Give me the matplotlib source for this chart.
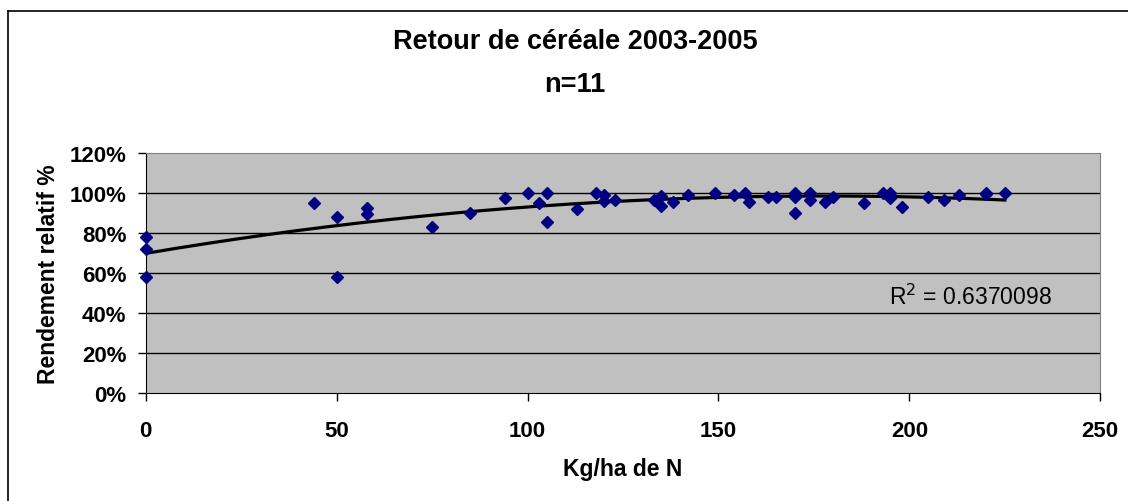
import matplotlib
matplotlib.use("Agg")
import matplotlib.pyplot as plt
from matplotlib.lines import Line2D
import numpy as np

## Data (N dose in kg/ha, relative yield in %)
dose_n = [0, 0, 0, 44, 50, 50, 58, 58, 75, 85,
          94, 100, 103, 105, 105, 113, 118, 120, 120, 123,
          133, 135, 135, 138, 142, 149, 154, 157, 158,
          163, 165, 170, 170, 170, 174, 174, 178, 180, 188,
          193, 195, 195, 198, 205, 209, 213, 220, 220, 225]
rendement = [78, 72, 58, 95, 88, 58, 92.5, 89.5, 83, 90,
             97.5, 100, 95, 100, 85.5, 92, 100, 99, 96, 96.5,
             96.5, 98.5, 93.5, 95.5, 99, 100, 99, 100, 95.5,
             98.3, 98.3, 100, 98, 90, 100, 96.5, 95.5, 98.3, 95,
             100, 100, 97.5, 93, 98.3, 96.5, 99, 100, 99.5, 100]

x_ticks = [0, 50, 100, 150, 200, 250]
y_ticks = [0, 20, 40, 60, 80, 100, 120]
titre = "Retour de céréale 2003-2005\nn=11"
r2_text = "R$^2$ = 0.6370098"

plt.rcParams['font.family'] = ['Liberation Sans', 'DejaVu Sans']

fig = plt.figure(figsize=(11.28, 5.02), dpi=100)
ax = fig.add_axes([145.7 / 1128, 1 - 394.3 / 502, (1100.3 - 145.7) / 1128, (394.3 - 154.3) / 502])

## Plot area formatting
ax.set_facecolor("#C0C0C0")
for y in y_ticks[1:-1]:
    ax.axhline(y, color="black", linewidth=1, zorder=1)
ax.spines["top"].set_color("#808080")
ax.spines["right"].set_color("#808080")
ax.spines["left"].set_color("black")
ax.spines["bottom"].set_color("black")

## Points
ax.plot(dose_n, rendement, linestyle="none", marker="D", markersize=5.8,
        color="#000080", zorder=3, clip_on=False)

## Polynomial trend (order 2)
coef = np.polyfit(dose_n, rendement, 2)
xs = np.linspace(min(dose_n), max(dose_n), 200)
ax.plot(xs, np.polyval(coef, xs), color="black", linewidth=2.3, zorder=2)

ax.text(0.949, 0.405, r2_text, transform=ax.transAxes, ha="right", va="center", fontsize=16.5)

ax.set_xlim(0, 250)
ax.set_ylim(0, 120)
ax.set_xticks(x_ticks)
ax.set_yticks(y_ticks)
ax.set_yticklabels(["%d%%" % v for v in y_ticks])
ax.tick_params(axis="both", direction="out", length=6, width=1, labelsize=16)
ax.tick_params(axis="x", pad=13)
ax.tick_params(axis="y", pad=8)
for lab in ax.get_xticklabels() + ax.get_yticklabels():
    lab.set_fontweight("bold")

ax.set_xlabel("Kg/ha de N", fontsize=16.5, fontweight="bold", labelpad=12)
ax.set_ylabel("Rendement relatif %", fontsize=16.5, fontweight="bold", labelpad=7)

fig.text(575 / 1128, 1 - 63.5 / 502, titre, ha="center", va="center", fontsize=19.5,
         fontweight="bold", linespacing=1.85)

## Chart border (only top and left visible in the reference crop)
fig.add_artist(Line2D([8 / 1128, 8 / 1128], [0, 1 - 12 / 502], color="black", linewidth=1.2))
fig.add_artist(Line2D([8 / 1128, 1], [1 - 12 / 502, 1 - 12 / 502], color="black", linewidth=1.2))

fig.savefig("out.png", dpi=100)
